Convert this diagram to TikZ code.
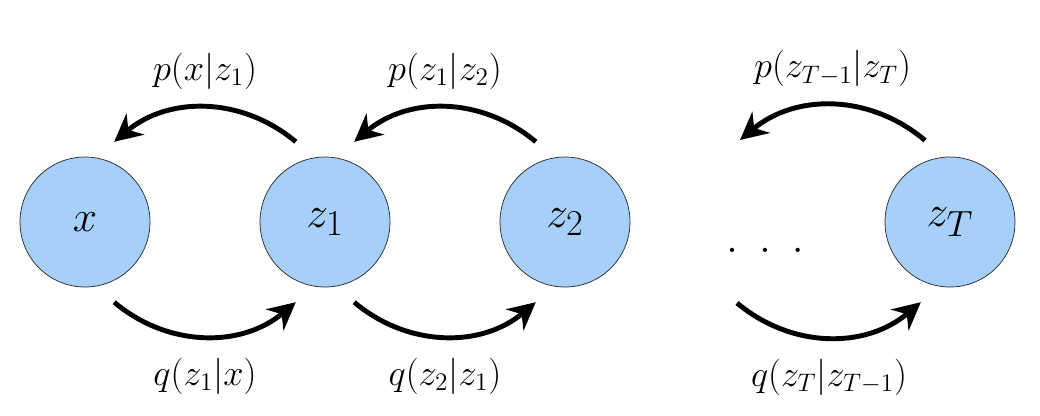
\documentclass[tikz,border=0pt]{standalone}
\usetikzlibrary{arrows.meta}
\definecolor{nodeblue}{RGB}{166,207,250}
\tikzset{
  state/.style={circle, draw=black!85, thin, fill=nodeblue, minimum size=2.6cm, inner sep=0pt, font=\fontsize{29}{35}\selectfont},
  flow/.style={line width=2.8pt, -{Stealth[length=5.5mm,width=5.5mm,inset=1.8mm]}},
  prob/.style={font=\fontsize{21.5}{26}\selectfont}
}
\begin{document}
\begin{tikzpicture}
\def\gap{0.4};
\useasboundingbox (0,0) rectangle (20.8,8.3);

\node[state] (x) at (1.7,3.86) {$x$};
\node[state] (z1) at (6.5,3.86) {$z_1$};
\node[state] (z2) at (11.3,3.86) {$z_2$};
\node[state] (zT) at (19.0,3.86) {$z_T$};
\node[font=\fontsize{40}{48}\selectfont] (dots) at (15.3,3.3) {$.\hspace{12pt}.\hspace{12pt}.$};

% free ends of the arrows next to the dots
\coordinate (dtop) at (14.8,5.5);
\coordinate (dbot) at (14.74,2.24);

\foreach \a/\b/\pl/\ql in {x/z1/{p(x|z_1)}/{q(z_1|x)}, z1/z2/{p(z_1|z_2)}/{q(z_2|z_1)}}{
  \draw[flow] ([shift=(110:\gap)]\b.110) to[bend right=40] node[prob,above=2mm] {$\pl$} ([shift=(70:\gap)]\a.70);
  \draw[flow] ([shift=(-70:\gap)]\a.-70) to[bend right=40] node[prob,below=2.7mm] {$\ql$} ([shift=(-110:\gap)]\b.-110);
}

\draw[flow] ([shift=(107:\gap)]zT.107) to[bend right=40] node[prob,above=2mm] {$p(z_{T-1}|z_T)$} (dtop);
\draw[flow] (dbot) to[bend right=40] node[prob,below=2.7mm] {$q(z_T|z_{T-1})$} ([shift=(-110:\gap)]zT.-110);
\end{tikzpicture}
\end{document}
